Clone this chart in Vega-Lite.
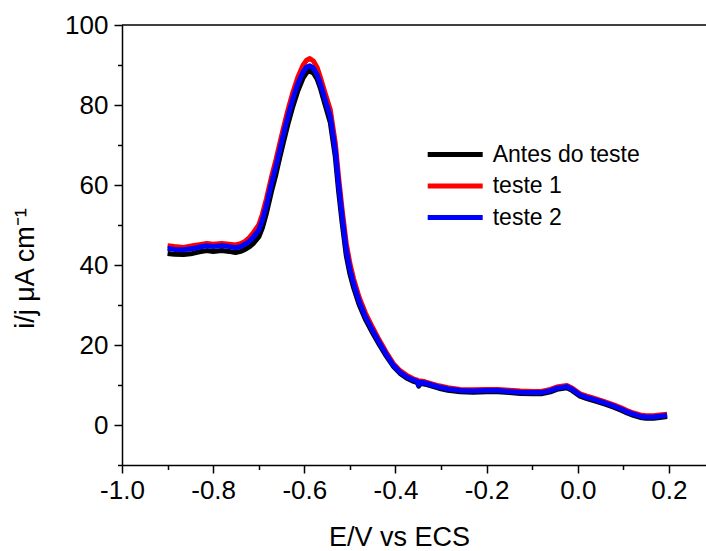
{
  "$schema": "https://vega.github.io/schema/vega-lite/v6.json",
  "width": 584,
  "height": 440,
  "autosize": {"type": "none"},
  "padding": {"left": 122, "top": 25, "right": 0, "bottom": 86},
  "background": "white",
  "config": {"view": {"stroke": null}, "font": "Liberation Sans"},
  "resolve": {"axis": {"y": "independent"}},
  "data": {
    "values": [
      {"s": "Antes do teste", "E": -0.900, "i": 42.9}, {"s": "Antes do teste", "E": -0.885, "i": 42.7}, {"s": "Antes do teste", "E": -0.865, "i": 42.6}, {"s": "Antes do teste", "E": -0.845, "i": 42.9}, {"s": "Antes do teste", "E": -0.830, "i": 43.3}, {"s": "Antes do teste", "E": -0.814, "i": 43.6}, {"s": "Antes do teste", "E": -0.800, "i": 43.4}, {"s": "Antes do teste", "E": -0.781, "i": 43.6}, {"s": "Antes do teste", "E": -0.765, "i": 43.4}, {"s": "Antes do teste", "E": -0.751, "i": 43.1}, {"s": "Antes do teste", "E": -0.740, "i": 43.4}, {"s": "Antes do teste", "E": -0.730, "i": 43.9}, {"s": "Antes do teste", "E": -0.720, "i": 44.6}, {"s": "Antes do teste", "E": -0.711, "i": 45.5}, {"s": "Antes do teste", "E": -0.700, "i": 47.0}, {"s": "Antes do teste", "E": -0.692, "i": 49.3}, {"s": "Antes do teste", "E": -0.683, "i": 53.0}, {"s": "Antes do teste", "E": -0.672, "i": 58.4}, {"s": "Antes do teste", "E": -0.662, "i": 62.8}, {"s": "Antes do teste", "E": -0.654, "i": 66.8}, {"s": "Antes do teste", "E": -0.645, "i": 71.1}, {"s": "Antes do teste", "E": -0.636, "i": 75.2}, {"s": "Antes do teste", "E": -0.625, "i": 79.7}, {"s": "Antes do teste", "E": -0.614, "i": 83.6}, {"s": "Antes do teste", "E": -0.603, "i": 86.7}, {"s": "Antes do teste", "E": -0.595, "i": 88.1}, {"s": "Antes do teste", "E": -0.588, "i": 88.5}, {"s": "Antes do teste", "E": -0.580, "i": 88.0}, {"s": "Antes do teste", "E": -0.572, "i": 86.5}, {"s": "Antes do teste", "E": -0.565, "i": 84.3}, {"s": "Antes do teste", "E": -0.555, "i": 80.3}, {"s": "Antes do teste", "E": -0.543, "i": 75.6}, {"s": "Antes do teste", "E": -0.532, "i": 67.0}, {"s": "Antes do teste", "E": -0.525, "i": 58.7}, {"s": "Antes do teste", "E": -0.517, "i": 50.5}, {"s": "Antes do teste", "E": -0.508, "i": 42.4}, {"s": "Antes do teste", "E": -0.500, "i": 37.8}, {"s": "Antes do teste", "E": -0.492, "i": 34.4}, {"s": "Antes do teste", "E": -0.480, "i": 30.2}, {"s": "Antes do teste", "E": -0.466, "i": 26.4}, {"s": "Antes do teste", "E": -0.450, "i": 23.0}, {"s": "Antes do teste", "E": -0.435, "i": 20.0}, {"s": "Antes do teste", "E": -0.420, "i": 17.2}, {"s": "Antes do teste", "E": -0.405, "i": 14.7}, {"s": "Antes do teste", "E": -0.390, "i": 12.9}, {"s": "Antes do teste", "E": -0.375, "i": 11.7}, {"s": "Antes do teste", "E": -0.360, "i": 10.9}, {"s": "Antes do teste", "E": -0.352, "i": 10.6}, {"s": "Antes do teste", "E": -0.349, "i": 9.7}, {"s": "Antes do teste", "E": -0.345, "i": 10.4}, {"s": "Antes do teste", "E": -0.335, "i": 10.2}, {"s": "Antes do teste", "E": -0.320, "i": 9.7}, {"s": "Antes do teste", "E": -0.305, "i": 9.2}, {"s": "Antes do teste", "E": -0.285, "i": 8.7}, {"s": "Antes do teste", "E": -0.258, "i": 8.3}, {"s": "Antes do teste", "E": -0.230, "i": 8.2}, {"s": "Antes do teste", "E": -0.200, "i": 8.3}, {"s": "Antes do teste", "E": -0.175, "i": 8.3}, {"s": "Antes do teste", "E": -0.150, "i": 8.1}, {"s": "Antes do teste", "E": -0.126, "i": 7.9}, {"s": "Antes do teste", "E": -0.100, "i": 7.8}, {"s": "Antes do teste", "E": -0.080, "i": 7.8}, {"s": "Antes do teste", "E": -0.060, "i": 8.3}, {"s": "Antes do teste", "E": -0.046, "i": 8.9}, {"s": "Antes do teste", "E": -0.024, "i": 9.3}, {"s": "Antes do teste", "E": -0.012, "i": 8.6}, {"s": "Antes do teste", "E": 0.005, "i": 7.2}, {"s": "Antes do teste", "E": 0.020, "i": 6.6}, {"s": "Antes do teste", "E": 0.035, "i": 6.1}, {"s": "Antes do teste", "E": 0.060, "i": 5.2}, {"s": "Antes do teste", "E": 0.080, "i": 4.4}, {"s": "Antes do teste", "E": 0.095, "i": 3.7}, {"s": "Antes do teste", "E": 0.108, "i": 3.0}, {"s": "Antes do teste", "E": 0.122, "i": 2.4}, {"s": "Antes do teste", "E": 0.137, "i": 1.9}, {"s": "Antes do teste", "E": 0.150, "i": 1.7}, {"s": "Antes do teste", "E": 0.166, "i": 1.7}, {"s": "Antes do teste", "E": 0.180, "i": 1.9}, {"s": "Antes do teste", "E": 0.196, "i": 2.1},

      {"s": "teste 1", "E": -0.900, "i": 44.8}, {"s": "teste 1", "E": -0.885, "i": 44.6}, {"s": "teste 1", "E": -0.865, "i": 44.4}, {"s": "teste 1", "E": -0.845, "i": 44.8}, {"s": "teste 1", "E": -0.830, "i": 45.1}, {"s": "teste 1", "E": -0.814, "i": 45.4}, {"s": "teste 1", "E": -0.800, "i": 45.2}, {"s": "teste 1", "E": -0.781, "i": 45.4}, {"s": "teste 1", "E": -0.765, "i": 45.2}, {"s": "teste 1", "E": -0.751, "i": 45.0}, {"s": "teste 1", "E": -0.740, "i": 45.3}, {"s": "teste 1", "E": -0.730, "i": 45.9}, {"s": "teste 1", "E": -0.720, "i": 46.9}, {"s": "teste 1", "E": -0.711, "i": 48.2}, {"s": "teste 1", "E": -0.700, "i": 50.0}, {"s": "teste 1", "E": -0.692, "i": 52.7}, {"s": "teste 1", "E": -0.683, "i": 56.6}, {"s": "teste 1", "E": -0.672, "i": 62.0}, {"s": "teste 1", "E": -0.662, "i": 66.4}, {"s": "teste 1", "E": -0.654, "i": 70.3}, {"s": "teste 1", "E": -0.645, "i": 74.6}, {"s": "teste 1", "E": -0.636, "i": 78.7}, {"s": "teste 1", "E": -0.625, "i": 83.2}, {"s": "teste 1", "E": -0.614, "i": 87.0}, {"s": "teste 1", "E": -0.603, "i": 89.9}, {"s": "teste 1", "E": -0.595, "i": 91.2}, {"s": "teste 1", "E": -0.588, "i": 91.6}, {"s": "teste 1", "E": -0.580, "i": 91.0}, {"s": "teste 1", "E": -0.572, "i": 89.4}, {"s": "teste 1", "E": -0.565, "i": 87.0}, {"s": "teste 1", "E": -0.555, "i": 83.2}, {"s": "teste 1", "E": -0.543, "i": 78.8}, {"s": "teste 1", "E": -0.532, "i": 70.5}, {"s": "teste 1", "E": -0.525, "i": 62.2}, {"s": "teste 1", "E": -0.517, "i": 53.8}, {"s": "teste 1", "E": -0.508, "i": 45.4}, {"s": "teste 1", "E": -0.500, "i": 40.4}, {"s": "teste 1", "E": -0.492, "i": 36.6}, {"s": "teste 1", "E": -0.480, "i": 32.0}, {"s": "teste 1", "E": -0.466, "i": 28.0}, {"s": "teste 1", "E": -0.450, "i": 24.3}, {"s": "teste 1", "E": -0.435, "i": 21.1}, {"s": "teste 1", "E": -0.420, "i": 18.1}, {"s": "teste 1", "E": -0.405, "i": 15.4}, {"s": "teste 1", "E": -0.390, "i": 13.6}, {"s": "teste 1", "E": -0.375, "i": 12.4}, {"s": "teste 1", "E": -0.360, "i": 11.5}, {"s": "teste 1", "E": -0.352, "i": 11.2}, {"s": "teste 1", "E": -0.349, "i": 10.3}, {"s": "teste 1", "E": -0.345, "i": 11.0}, {"s": "teste 1", "E": -0.335, "i": 10.8}, {"s": "teste 1", "E": -0.320, "i": 10.3}, {"s": "teste 1", "E": -0.305, "i": 9.8}, {"s": "teste 1", "E": -0.285, "i": 9.3}, {"s": "teste 1", "E": -0.258, "i": 8.9}, {"s": "teste 1", "E": -0.230, "i": 8.8}, {"s": "teste 1", "E": -0.200, "i": 8.9}, {"s": "teste 1", "E": -0.175, "i": 8.9}, {"s": "teste 1", "E": -0.150, "i": 8.7}, {"s": "teste 1", "E": -0.126, "i": 8.5}, {"s": "teste 1", "E": -0.100, "i": 8.4}, {"s": "teste 1", "E": -0.080, "i": 8.4}, {"s": "teste 1", "E": -0.060, "i": 8.9}, {"s": "teste 1", "E": -0.046, "i": 9.5}, {"s": "teste 1", "E": -0.024, "i": 9.9}, {"s": "teste 1", "E": -0.012, "i": 9.2}, {"s": "teste 1", "E": 0.005, "i": 7.8}, {"s": "teste 1", "E": 0.020, "i": 7.2}, {"s": "teste 1", "E": 0.035, "i": 6.7}, {"s": "teste 1", "E": 0.060, "i": 5.8}, {"s": "teste 1", "E": 0.080, "i": 5.0}, {"s": "teste 1", "E": 0.095, "i": 4.3}, {"s": "teste 1", "E": 0.108, "i": 3.6}, {"s": "teste 1", "E": 0.122, "i": 3.0}, {"s": "teste 1", "E": 0.137, "i": 2.5}, {"s": "teste 1", "E": 0.150, "i": 2.3}, {"s": "teste 1", "E": 0.166, "i": 2.3}, {"s": "teste 1", "E": 0.180, "i": 2.5}, {"s": "teste 1", "E": 0.196, "i": 2.7},

      {"s": "teste 2", "E": -0.900, "i": 44.2}, {"s": "teste 2", "E": -0.885, "i": 43.9}, {"s": "teste 2", "E": -0.865, "i": 43.8}, {"s": "teste 2", "E": -0.845, "i": 44.1}, {"s": "teste 2", "E": -0.830, "i": 44.5}, {"s": "teste 2", "E": -0.814, "i": 44.8}, {"s": "teste 2", "E": -0.800, "i": 44.6}, {"s": "teste 2", "E": -0.781, "i": 44.8}, {"s": "teste 2", "E": -0.765, "i": 44.6}, {"s": "teste 2", "E": -0.751, "i": 44.3}, {"s": "teste 2", "E": -0.740, "i": 44.6}, {"s": "teste 2", "E": -0.730, "i": 45.2}, {"s": "teste 2", "E": -0.720, "i": 46.0}, {"s": "teste 2", "E": -0.711, "i": 47.1}, {"s": "teste 2", "E": -0.700, "i": 48.7}, {"s": "teste 2", "E": -0.692, "i": 51.2}, {"s": "teste 2", "E": -0.683, "i": 55.0}, {"s": "teste 2", "E": -0.672, "i": 60.4}, {"s": "teste 2", "E": -0.662, "i": 64.8}, {"s": "teste 2", "E": -0.654, "i": 68.7}, {"s": "teste 2", "E": -0.645, "i": 73.0}, {"s": "teste 2", "E": -0.636, "i": 77.1}, {"s": "teste 2", "E": -0.625, "i": 81.6}, {"s": "teste 2", "E": -0.614, "i": 85.4}, {"s": "teste 2", "E": -0.603, "i": 88.2}, {"s": "teste 2", "E": -0.595, "i": 89.5}, {"s": "teste 2", "E": -0.588, "i": 89.8}, {"s": "teste 2", "E": -0.580, "i": 89.2}, {"s": "teste 2", "E": -0.572, "i": 87.6}, {"s": "teste 2", "E": -0.565, "i": 85.4}, {"s": "teste 2", "E": -0.555, "i": 81.6}, {"s": "teste 2", "E": -0.543, "i": 77.1}, {"s": "teste 2", "E": -0.532, "i": 68.7}, {"s": "teste 2", "E": -0.525, "i": 60.4}, {"s": "teste 2", "E": -0.517, "i": 52.1}, {"s": "teste 2", "E": -0.508, "i": 43.8}, {"s": "teste 2", "E": -0.500, "i": 39.0}, {"s": "teste 2", "E": -0.492, "i": 35.4}, {"s": "teste 2", "E": -0.480, "i": 31.0}, {"s": "teste 2", "E": -0.466, "i": 27.1}, {"s": "teste 2", "E": -0.450, "i": 23.6}, {"s": "teste 2", "E": -0.435, "i": 20.5}, {"s": "teste 2", "E": -0.420, "i": 17.6}, {"s": "teste 2", "E": -0.405, "i": 15.0}, {"s": "teste 2", "E": -0.390, "i": 13.2}, {"s": "teste 2", "E": -0.375, "i": 12.0}, {"s": "teste 2", "E": -0.360, "i": 11.2}, {"s": "teste 2", "E": -0.352, "i": 10.9}, {"s": "teste 2", "E": -0.349, "i": 10.0}, {"s": "teste 2", "E": -0.345, "i": 10.7}, {"s": "teste 2", "E": -0.335, "i": 10.5}, {"s": "teste 2", "E": -0.320, "i": 10.0}, {"s": "teste 2", "E": -0.305, "i": 9.5}, {"s": "teste 2", "E": -0.285, "i": 9.0}, {"s": "teste 2", "E": -0.258, "i": 8.6}, {"s": "teste 2", "E": -0.230, "i": 8.5}, {"s": "teste 2", "E": -0.200, "i": 8.6}, {"s": "teste 2", "E": -0.175, "i": 8.6}, {"s": "teste 2", "E": -0.150, "i": 8.4}, {"s": "teste 2", "E": -0.126, "i": 8.2}, {"s": "teste 2", "E": -0.100, "i": 8.1}, {"s": "teste 2", "E": -0.080, "i": 8.1}, {"s": "teste 2", "E": -0.060, "i": 8.6}, {"s": "teste 2", "E": -0.046, "i": 9.2}, {"s": "teste 2", "E": -0.024, "i": 9.6}, {"s": "teste 2", "E": -0.012, "i": 8.9}, {"s": "teste 2", "E": 0.005, "i": 7.5}, {"s": "teste 2", "E": 0.020, "i": 6.9}, {"s": "teste 2", "E": 0.035, "i": 6.4}, {"s": "teste 2", "E": 0.060, "i": 5.5}, {"s": "teste 2", "E": 0.080, "i": 4.7}, {"s": "teste 2", "E": 0.095, "i": 4.0}, {"s": "teste 2", "E": 0.108, "i": 3.3}, {"s": "teste 2", "E": 0.122, "i": 2.7}, {"s": "teste 2", "E": 0.137, "i": 2.2}, {"s": "teste 2", "E": 0.150, "i": 2.0}, {"s": "teste 2", "E": 0.166, "i": 2.0}, {"s": "teste 2", "E": 0.180, "i": 2.2}, {"s": "teste 2", "E": 0.196, "i": 2.4}
    ]
  },
  "layer": [
    {
      "mark": {"type": "line", "strokeJoin": "round", "strokeCap": "butt"},
      "encoding": {
        "x": {
          "field": "E", "type": "quantitative",
          "scale": {"domain": [-1.0, 0.2813], "nice": false, "zero": false},
          "axis": {
            "values": [-1.0, -0.9, -0.8, -0.7, -0.6, -0.5, -0.4, -0.3, -0.2, -0.1, 0.0, 0.1, 0.2],
            "labelExpr": "abs(round(datum.value * 10)) % 2 === 0 ? replace(format(datum.value, '.1f'), '\u2212', '-') : ''",
            "tickSize": {"condition": {"test": "abs(round(datum.value * 10)) % 2 === 0", "value": 8}, "value": 4.5},
            "grid": false,
            "domainColor": "black", "domainWidth": 1.5,
            "tickColor": "black", "tickWidth": 1.5,
            "labelFont": "Liberation Sans", "labelFontSize": 26, "labelColor": "black",
            "labelPadding": 4, "labelFlush": false, "labelOverlap": false,
            "title": "E/V vs ECS",
            "titleFont": "Liberation Sans", "titleFontSize": 27, "titleFontWeight": "normal", "titleColor": "black",
            "titleX": 277, "titleY": 80, "titleAlign": "center", "titleBaseline": "alphabetic"
          }
        },
        "y": {
          "field": "i", "type": "quantitative",
          "scale": {"domain": [-10, 100], "nice": false, "zero": false},
          "axis": {
            "values": [-10, 0, 10, 20, 30, 40, 50, 60, 70, 80, 90, 100],
            "labelExpr": "abs(round(datum.value / 10)) % 2 === 0 ? format(datum.value, 'd') : ''",
            "tickSize": {"condition": {"test": "abs(round(datum.value / 10)) % 2 === 0", "value": 8}, "value": 4.5},
            "grid": false,
            "domainColor": "black", "domainWidth": 1.5,
            "tickColor": "black", "tickWidth": 1.5,
            "labelFont": "Liberation Sans", "labelFontSize": 26, "labelColor": "black",
            "labelPadding": 6, "labelFlush": false, "labelOverlap": false,
            "title": "i/j μA cm⁻¹",
            "titleFont": "Liberation Sans", "titleFontSize": 27, "titleFontWeight": "normal", "titleColor": "black",
            "titleX": -89, "titleY": 243, "titleAngle": -90, "titleAlign": "center", "titleBaseline": "alphabetic"
          }
        },
        "color": {
          "field": "s", "type": "nominal",
          "scale": {"domain": ["Antes do teste", "teste 1", "teste 2"], "range": ["#000000", "#ff0000", "#0000ff"]},
          "legend": {
            "orient": "none", "legendX": 321.7, "legendY": 118,
            "title": null, "padding": 0,
            "labelFont": "Liberation Sans", "labelFontSize": 23, "labelColor": "black",
            "symbolType": "M-5,0H5", "symbolSize": 121, "symbolStrokeWidth": 5, "symbolOpacity": 1,
            "labelOffset": 26, "rowPadding": 7.5,
            "encode": {"symbols": {"update": {"strokeWidth": {"signal": "datum.value === 'teste 2' ? 3 : 5"}}}}
          }
        },
        "strokeWidth": {
          "field": "s", "type": "nominal",
          "scale": {"domain": ["Antes do teste", "teste 1", "teste 2"], "range": [5, 5, 3]},
          "legend": null
        }
      }
    },
    {
      "data": {"values": [{"top": 100}]},
      "mark": {"type": "rule", "color": "black", "strokeWidth": 1.5},
      "encoding": {"y": {"field": "top", "type": "quantitative", "axis": null}}
    }
  ]
}
